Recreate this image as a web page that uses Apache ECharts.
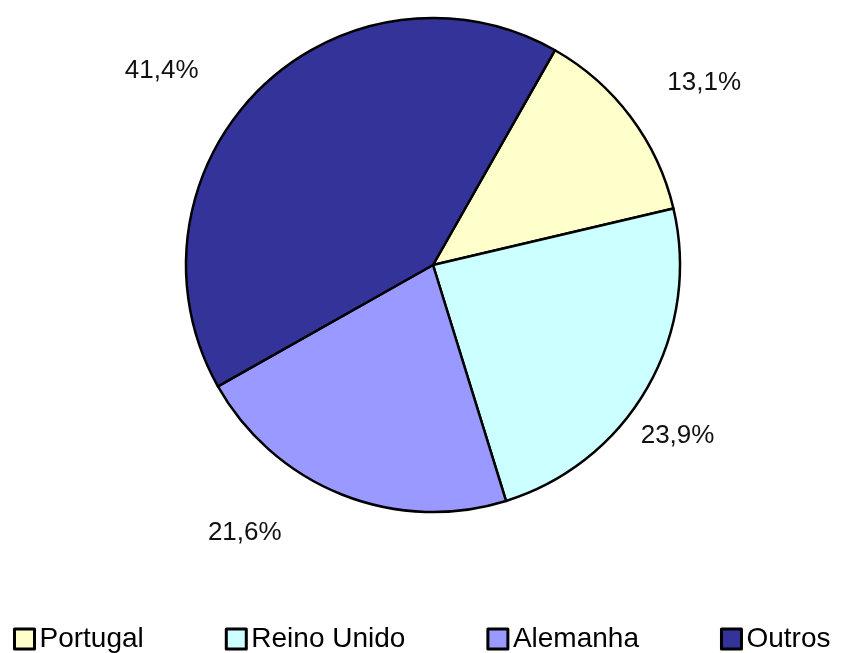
<!DOCTYPE html>
<html>
<head>
<meta charset="utf-8">
<script src="https://cdn.jsdelivr.net/npm/echarts@6/dist/echarts.min.js"></script>
<style>html,body{margin:0;padding:0;background:#fff}#c{width:842px;height:653px}</style>
</head>
<body>
<div id="c"></div>
<script>
var categories = ['Portugal', 'Reino Unido', 'Alemanha', 'Outros'];
var values = [13.1, 23.9, 21.6, 41.4];
var colors = ['#FFFFCC', '#CCFFFF', '#9999FF', '#333399'];
// label placement (label line lengths, line hidden)
var lineLen = [57, 96, 41, 27];
var lineLen2 = [-14, -95, 40, 36];

var chart = echarts.init(document.getElementById('c'), null, {renderer: 'canvas'});
var data = categories.map(function (name, i) {
  return {
    name: name,
    value: values[i],
    itemStyle: {color: colors[i]},
    labelLine: {show: false, length: lineLen[i], length2: lineLen2[i]}
  };
});
chart.setOption({
  backgroundColor: '#ffffff',
  animation: false,
  legend: {
    data: categories,
    orient: 'horizontal',
    left: 13,
    top: 625,
    padding: 0,
    itemGap: 81,
    itemWidth: 20,
    itemHeight: 20,
    icon: 'rect',
    itemStyle: {borderColor: '#000', borderWidth: 3},
    textStyle: {fontFamily: '"Liberation Sans", Arial, sans-serif', fontSize: 28, color: '#000'}
  },
  series: [{
    type: 'pie',
    center: [433, 265],
    radius: 247,
    startAngle: 60.4,
    clockwise: true,
    avoidLabelOverlap: false,
    itemStyle: {borderColor: '#000', borderWidth: 2.5},
    label: {
      show: true,
      position: 'outside',
      distanceToLabelLine: 5,
      fontFamily: '"Liberation Sans", Arial, sans-serif',
      fontSize: 26,
      color: '#111',
      formatter: function (p) { return p.value.toFixed(1).replace('.', ',') + '%'; }
    },
    labelLine: {show: false},
    emphasis: {disabled: true},
    data: data
  }]
});
</script>
</body>
</html>
